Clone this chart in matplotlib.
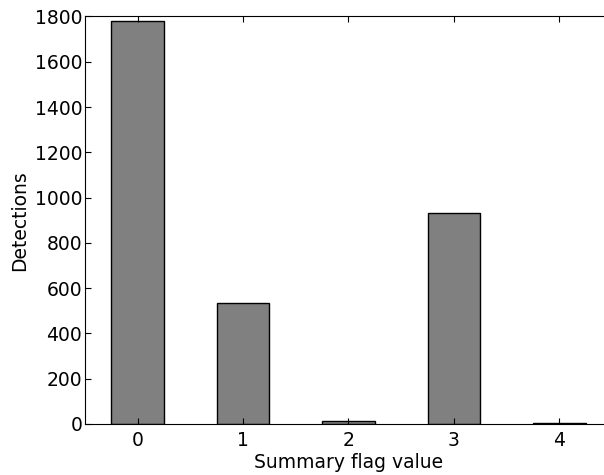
import matplotlib
matplotlib.use("Agg")
import matplotlib.pyplot as plt

flags = [0, 1, 2, 3, 4]
detections = [1779, 536, 13, 932, 4]

fig = plt.figure(figsize=(6.04, 4.75), dpi=100)
ax = fig.add_axes([0.1407, 0.1074, 0.8725, 0.8579])
ax.bar(flags, detections, width=0.5, color="#808080", edgecolor="black", linewidth=1.0)
ax.set_xlim(-0.5, 4.5)
ax.set_ylim(0, 1800)
ax.set_xticks(flags)
ax.set_yticks(range(0, 1801, 200))
ax.tick_params(direction="in", top=True, right=True, labelsize=13.5, length=4)
ax.tick_params(axis="y", pad=2)
ax.tick_params(axis="x", pad=5)
ax.set_xlabel("Summary flag value", fontsize=13.5, labelpad=2)
ax.set_ylabel("Detections", fontsize=13.5, labelpad=4)
fig.savefig("out.png", dpi=100)
